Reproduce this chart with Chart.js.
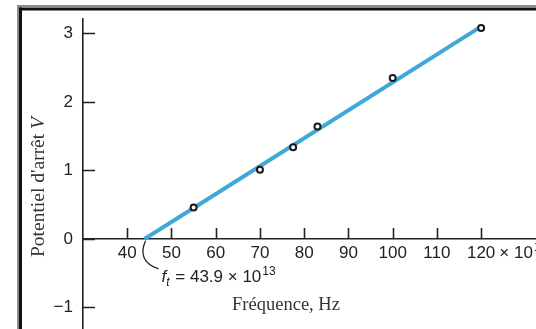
<!DOCTYPE html>
<html lang="fr">
<head>
<meta charset="UTF-8">
<title>Potentiel d'arrêt en fonction de la fréquence</title>
<script src="https://cdn.jsdelivr.net/npm/chart.js"></script>
<style>
  html, body { margin: 0; padding: 0; background: #fff; }
  .wrap { width: 536px; height: 329px; position: relative; }
</style>
</head>
<body>
<div class="wrap"><canvas id="chart"></canvas></div>
<script>
// mesures (fréquence en 10^13 Hz, potentiel en V)
const freqs = [55, 70, 77.5, 83, 100, 120];
const volts = [0.46, 1.01, 1.34, 1.64, 2.35, 3.08];
// droite d'ajustement
const fitX = [43.9, 120.5];
const fitY = [0, 3.12];
const xTicks = [40, 50, 60, 70, 80, 90, 100, 110, 120];
const yTicks = [-1, 0, 1, 2, 3];

const SANS = "'Liberation Sans', Arial, Helvetica, sans-serif";
const SERIF = "'Liberation Serif', 'Times New Roman', serif";
const INK = '#222';

const decor = {
  id: 'decor',
  beforeDraw(chart) {
    const ctx = chart.ctx;
    ctx.save();
    ctx.fillStyle = '#fff';
    ctx.fillRect(0, 0, chart.width, chart.height);
    // double cadre en haut et à gauche
    ctx.fillStyle = '#8c8c84';
    ctx.fillRect(17, 5, chart.width, 2);
    ctx.fillRect(17, 5, 2, chart.height);
    ctx.fillStyle = '#111';
    ctx.fillRect(19, 7.5, chart.width, 3);
    ctx.fillRect(19, 7.5, 3, chart.height);
    ctx.restore();
  },
  afterDraw(chart) {
    const ctx = chart.ctx;
    const xs = chart.scales.x, ys = chart.scales.y;
    const x0 = chart.chartArea.left;
    const y0 = ys.getPixelForValue(0);
    ctx.save();
    ctx.strokeStyle = INK;
    ctx.lineWidth = 1.6;
    // graduations vers l'intérieur
    ctx.beginPath();
    ys.ticks.forEach(t => {
      const p = Math.round(ys.getPixelForValue(t.value)) + 0.5;
      ctx.moveTo(x0, p); ctx.lineTo(x0 + 12, p);
    });
    xs.ticks.forEach(t => {
      const p = Math.round(xs.getPixelForValue(t.value)) + 0.5;
      ctx.moveTo(p, y0); ctx.lineTo(p, y0 - 11);
    });
    ctx.stroke();

    // accolade vers f_t
    const fx = xs.getPixelForValue(fitX[0]);
    ctx.lineWidth = 1.3;
    ctx.beginPath();
    ctx.moveTo(fx + 1, y0 + 2);
    ctx.quadraticCurveTo(fx - 8, y0 + 22, fx + 14, y0 + 30);
    ctx.stroke();

    ctx.fillStyle = INK;
    ctx.textBaseline = 'alphabetic';
    // suffixe × 10^13 après 120
    const p120 = xs.getPixelForValue(120);
    ctx.font = '17px ' + SANS;
    let sx = p120 + ctx.measureText('120').width / 2 + 4;
    const by = y0 + 19.5;
    ctx.fillText('× 10', sx, by);
    sx += ctx.measureText('× 10').width + 1;
    ctx.font = '12px ' + SANS;
    ctx.fillText('13', sx, by - 7);

    // f_t = 43.9 × 10^13
    let ax = fx + 17, ay = y0 + 43.5;
    ctx.font = 'italic 17px ' + SANS;
    ctx.fillText('f', ax, ay);
    ax += ctx.measureText('f').width;
    ctx.font = 'italic 12px ' + SANS;
    ctx.fillText('t', ax, ay + 4);
    ax += ctx.measureText('t').width + 1;
    ctx.font = '17px ' + SANS;
    ctx.fillText(' = 43.9 × 10', ax, ay);
    ax += ctx.measureText(' = 43.9 × 10').width + 1;
    ctx.font = '12px ' + SANS;
    ctx.fillText('13', ax, ay - 7);

    // titre de l'axe x
    ctx.fillStyle = '#333';
    ctx.font = '18.5px ' + SERIF;
    ctx.textAlign = 'center';
    ctx.fillText('Fréquence, Hz', 286, 310);

    // titre de l'axe y
    ctx.translate(44, 187);
    ctx.rotate(-Math.PI / 2);
    ctx.textAlign = 'left';
    ctx.font = '19.5px ' + SERIF;
    const a = "Potentiel d'arrêt ";
    const wa = ctx.measureText(a).width;
    ctx.font = 'italic 19.5px ' + SERIF;
    const wb = ctx.measureText('V').width;
    const tx = -(wa + wb) / 2;
    ctx.font = '19.5px ' + SERIF;
    ctx.fillText(a, tx, 0);
    ctx.font = 'italic 19.5px ' + SERIF;
    ctx.fillText('V', tx + wa, 0);
    ctx.restore();
  }
};

function noPad(s) {
  s.paddingTop = 0; s.paddingBottom = 0;
  s.paddingLeft = 0; s.paddingRight = 0;
}

new Chart(document.getElementById('chart'), {
  type: 'scatter',
  data: {
    datasets: [{
      label: 'ajustement',
      data: fitX.map((x, i) => ({ x, y: fitY[i] })),
      showLine: true,
      borderColor: '#3ea8d6',
      borderWidth: 4,
      pointRadius: 0,
      order: 2
    }, {
      label: 'mesures',
      data: freqs.map((x, i) => ({ x, y: volts[i] })),
      pointRadius: 3,
      pointBorderWidth: 2,
      pointBorderColor: '#1a1a1a',
      pointBackgroundColor: '#fff',
      order: 1
    }]
  },
  options: {
    responsive: true,
    maintainAspectRatio: false,
    animation: false,
    layout: { autoPadding: false, padding: { left: 22, top: 19, right: 0, bottom: 0 } },
    plugins: { legend: { display: false }, tooltip: { enabled: false } },
    scales: {
      x: {
        type: 'linear',
        position: { y: 0 },
        min: 30,
        max: 132.4,
        afterBuildTicks: s => { s.ticks = xTicks.map(v => ({ value: v })); },
        afterFit: s => { s.height = 0; noPad(s); },
        grid: { display: false, drawTicks: false },
        border: { display: true, color: INK, width: 1.6 },
        ticks: {
          padding: 4,
          maxRotation: 0,
          autoSkip: false,
          color: INK,
          font: { family: SANS, size: 17 }
        }
      },
      y: {
        position: 'left',
        min: -1.314,
        max: 3.21,
        afterBuildTicks: s => { s.ticks = yTicks.map(v => ({ value: v })); },
        afterFit: s => { s.width = 61; noPad(s); },
        grid: { display: false, drawTicks: false },
        border: { display: true, color: INK, width: 1.6 },
        ticks: {
          padding: 10,
          color: INK,
          font: { family: SANS, size: 17 },
          callback: v => String(v).replace('-', '\u2212')
        }
      }
    }
  },
  plugins: [decor]
});
</script>
</body>
</html>
